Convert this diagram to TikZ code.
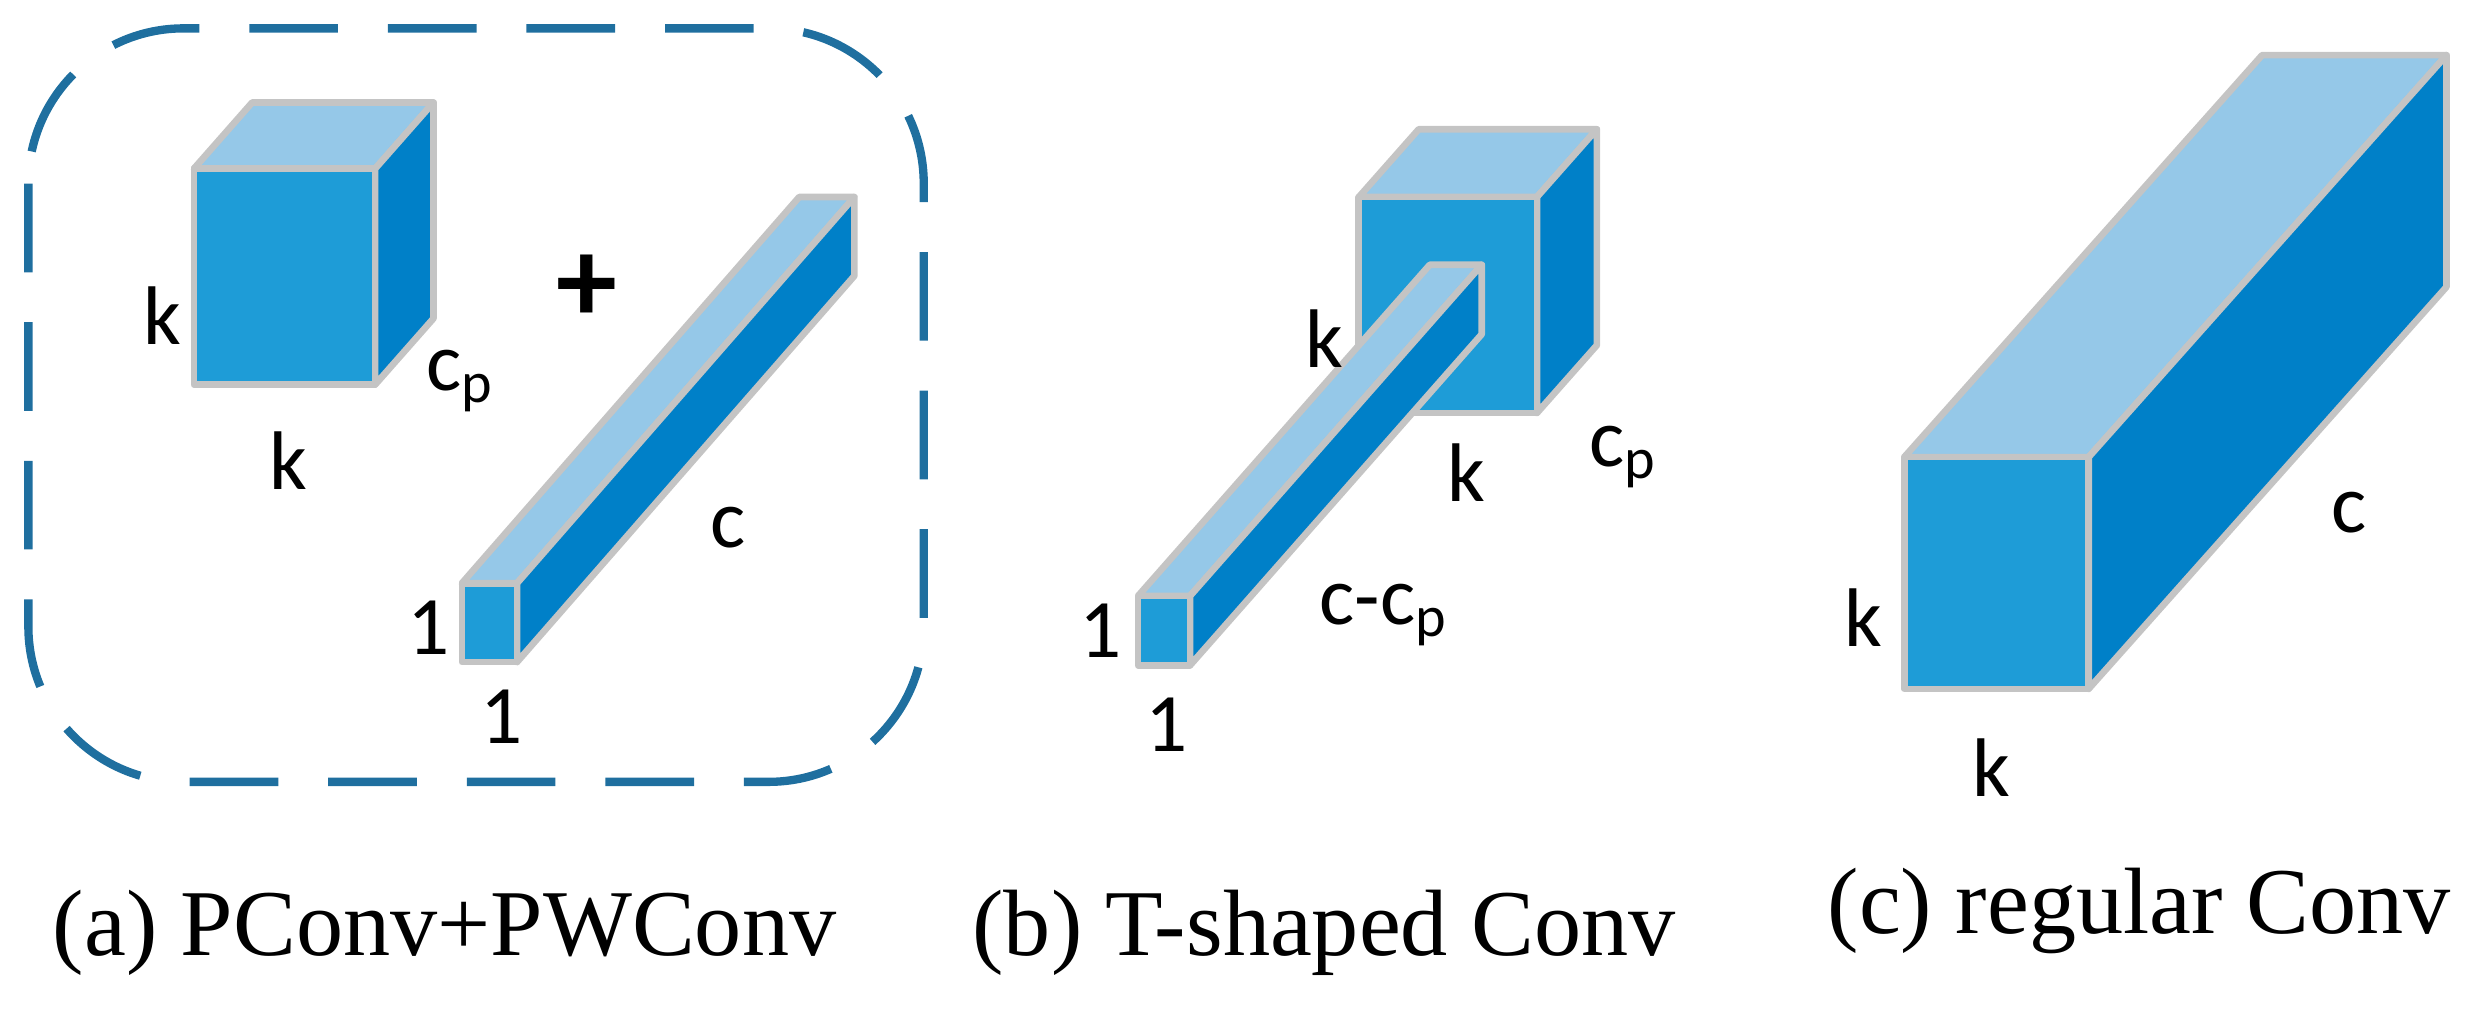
\documentclass[tikz,border=0pt]{standalone}
\usepackage{fontspec}
\setmainfont{Liberation Serif}
\newfontfamily\lab{Carlito}
\begin{document}
\begin{tikzpicture}[x=0.01cm,y=-0.01cm,
  bfront/.style={fill=cfront,draw=edge,line width=1.2pt,line join=round},
  btop/.style={fill=ctop,draw=edge,line width=1.2pt,line join=round},
  bside/.style={fill=cside,draw=edge,line width=1.2pt,line join=round},
  lb/.style={font=\lab\fontsize{15}{15}\selectfont,inner sep=0pt},
  captx/.style={font=\fontsize{17}{17}\selectfont,inner sep=0pt}]
\definecolor{cfront}{HTML}{1E9CD7}
\definecolor{ctop}{HTML}{95C8E8}
\definecolor{cside}{HTML}{0080C8}
\definecolor{edge}{HTML}{C4C4C4}
\definecolor{dashcol}{HTML}{1F6F9F}
\useasboundingbox (0,0) rectangle (1565,640);
% box
\draw[dashcol,line width=1.5pt,dash pattern=on 16pt off 9pt,rounded corners=28pt] (18,18) rectangle (586,496);
\newcommand\mybox[6]{%
 \draw[btop] (#1,#3) -- ++(#5,#6) -- ++(#2-#1,0) -- (#2,#3) -- cycle;
 \draw[bside] (#2,#3) -- ++(#5,#6) -- ++(0,#4-#3) -- (#2,#4) -- cycle;
 \draw[bfront] (#1,#3) rectangle (#2,#4);}
% (a)
\mybox{123}{238}{107}{244}{37}{-42}
\mybox{293}{328}{370}{420}{214}{-245}
\node[lb] (ak1) at (103,200) {k};
\node[lb] (ak2) at (183,292) {k};
\node[lb] (acp) at (292,242) {c\textsubscript{p}};
\node[font=\lab\fontsize{22}{22}\selectfont\bfseries] (plus) at (372,183) {+};
\node[lb] (a11) at (272,398) {1};
\node[lb] (a12) at (318,455) {1};
\node[lb] (ac) at (462,335) {c};
% (b)
\mybox{862}{975}{125}{262}{38}{-43}
\mybox{722}{755}{378}{422}{185}{-210}
\node[lb] (bk1) at (840,215) {k};
\node[lb] (bk2) at (930,300) {k};
\node[lb] (bcp) at (1030,290) {c\textsubscript{p}};
\node[lb] (b11) at (698,400) {1};
\node[lb] (b12) at (740,460) {1};
\node[lb] (bc) at (878,390) {c-c\textsubscript{p}};
% (c)
\mybox{1208}{1325}{290}{437}{227}{-255}
\node[lb] (ck1) at (1182,392) {k};
\node[lb] (ck2) at (1263,487) {k};
\node[lb] (cc) at (1490,325) {c};
% captions
\node[captx] (capa) at (282,592) {(a) PConv+PWConv};
\node[captx] (capb) at (840,592) {(b) T-shaped Conv};
\node[captx] (capc) at (1357,578) {(c) regular Conv};
\end{tikzpicture}
\end{document}
